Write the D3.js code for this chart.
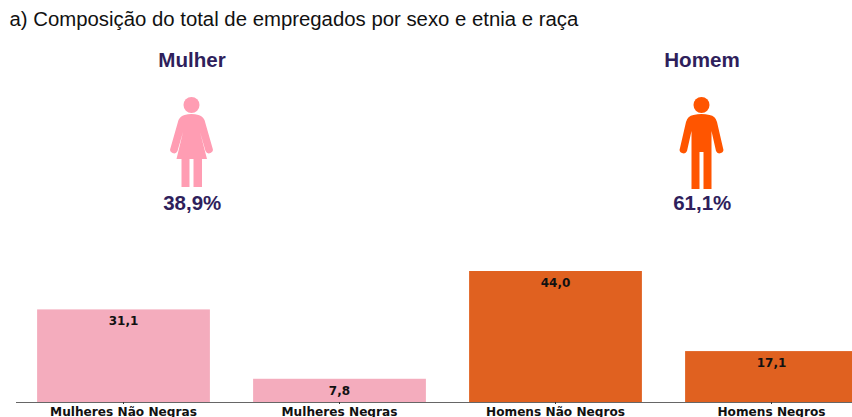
<!DOCTYPE html>
<html>
<head>
<meta charset="utf-8">
<script src="https://cdn.jsdelivr.net/npm/d3@7"></script>
<style>
html, body { margin: 0; padding: 0; background: #fff; overflow: hidden; }
svg { display: block; }
</style>
</head>
<body>
<script>
const w = 852;
const h = 417;

const categories = ["Mulheres Não Negras", "Mulheres Negras", "Homens Não Negros", "Homens Negros"];
const values = [31.1, 7.8, 44.0, 17.1];
const barColors = ["#f4acbd", "#f4acbd", "#e06120", "#e06120"];
const sexes = ["Mulher", "Homem"];
const shares = ["38,9%", "61,1%"];
const iconColors = ["#ff9db3", "#ff5500"];

// pictograms, drawn around x = 0 with the top of the head at y = 0
const womanBody = "M-7,18 Q0,16 7,18 Q11,19 13,23 L21,51 A3.6,3.6 0 0 1 14,54 L8.5,35 L15.5,62 L10.5,62 L10.5,90 L2,90 L2,62 L-2,62 L-2,90 L-10,90 L-10,62 L-15,62 L-8.5,35 L-14,54 A3.6,3.6 0 0 1 -21,51 L-13,23 Q-11,19 -7,18 Z";
const manBody = "M-8,18 Q0,16 8,18 Q14,19 15.5,25 L21.5,51 A3.6,3.6 0 0 1 14.5,54 L10,34 L10,92 L2,92 L2,55 L-2,55 L-2,92 L-10,92 L-10,34 L-14.5,54 A3.6,3.6 0 0 1 -21.5,51 L-15.5,25 Q-14,19 -8,18 Z";
const iconBodies = [womanBody, manBody];

const svg = d3.select("body")
    .append("svg")
    .attr("width", w)
    .attr("height", h);

svg.append("text")
    .attr("x", 9.5)
    .attr("y", 26)
    .attr("font-family", "Liberation Sans")
    .attr("font-size", 20.35)
    .attr("fill", "#111")
    .text("a) Composição do total de empregados por sexo e etnia e raça");

// top part, one group per sex
const iconX = d3.scaleOrdinal().domain(sexes).range([191.5, 701.5]);
const purple = "#2f1f5c";

const groups = svg.selectAll(".sex")
    .data(sexes)
    .enter()
    .append("g")
    .attr("class", "sex")
    .attr("transform", d => "translate(" + iconX(d) + ", 0)");

groups.append("text")
    .attr("x", 0.5)
    .attr("y", 67)
    .attr("text-anchor", "middle")
    .attr("font-family", "Liberation Sans")
    .attr("font-weight", "bold")
    .attr("font-size", 20.6)
    .attr("fill", purple)
    .text(d => d);

groups.append("circle")
    .attr("cy", 105)
    .attr("r", 8)
    .attr("fill", (d, i) => iconColors[i]);

groups.append("path")
    .attr("transform", "translate(0, 97)")
    .attr("d", (d, i) => iconBodies[i])
    .attr("fill", (d, i) => iconColors[i]);

groups.append("text")
    .attr("x", 0.7)
    .attr("y", 210)
    .attr("text-anchor", "middle")
    .attr("font-family", "Liberation Sans")
    .attr("font-weight", "bold")
    .attr("font-size", 20.5)
    .attr("fill", purple)
    .text((d, i) => shares[i]);

// bars
const xScale = d3.scaleBand()
    .domain(categories)
    .range([15.5, 879.5])
    .paddingInner(0.2)
    .paddingOuter(0.1);

const yScale = d3.scaleLinear()
    .domain([0, 44])
    .range([402, 271]);

svg.selectAll(".bar")
    .data(values)
    .enter()
    .append("rect")
    .attr("class", "bar")
    .attr("x", (d, i) => xScale(categories[i]))
    .attr("y", d => yScale(d))
    .attr("width", xScale.bandwidth())
    .attr("height", d => yScale(0) - yScale(d))
    .attr("fill", (d, i) => barColors[i]);

svg.selectAll(".bar-label")
    .data(values)
    .enter()
    .append("text")
    .attr("class", "bar-label")
    .attr("x", (d, i) => xScale(categories[i]) + xScale.bandwidth() / 2)
    .attr("y", d => yScale(d) + 16)
    .attr("text-anchor", "middle")
    .attr("font-family", "DejaVu Sans")
    .attr("font-weight", "bold")
    .attr("font-size", 12)
    .attr("fill", "#111")
    .text(d => d3.format(".1f")(d).replace(".", ","));

const xAxis = d3.axisBottom(xScale)
    .tickSize(2)
    .tickPadding(3)
    .tickSizeOuter(0);

const axisG = svg.append("g")
    .attr("transform", "translate(0, 402)")
    .call(xAxis);

axisG.select(".domain")
    .attr("stroke", "#666")
    .attr("stroke-width", 1.2);

axisG.selectAll(".tick line")
    .attr("stroke", "#333");

axisG.selectAll(".tick text")
    .attr("font-family", "DejaVu Sans")
    .attr("font-weight", "bold")
    .attr("font-size", 12.15)
    .attr("fill", "#111");
</script>
</body>
</html>
